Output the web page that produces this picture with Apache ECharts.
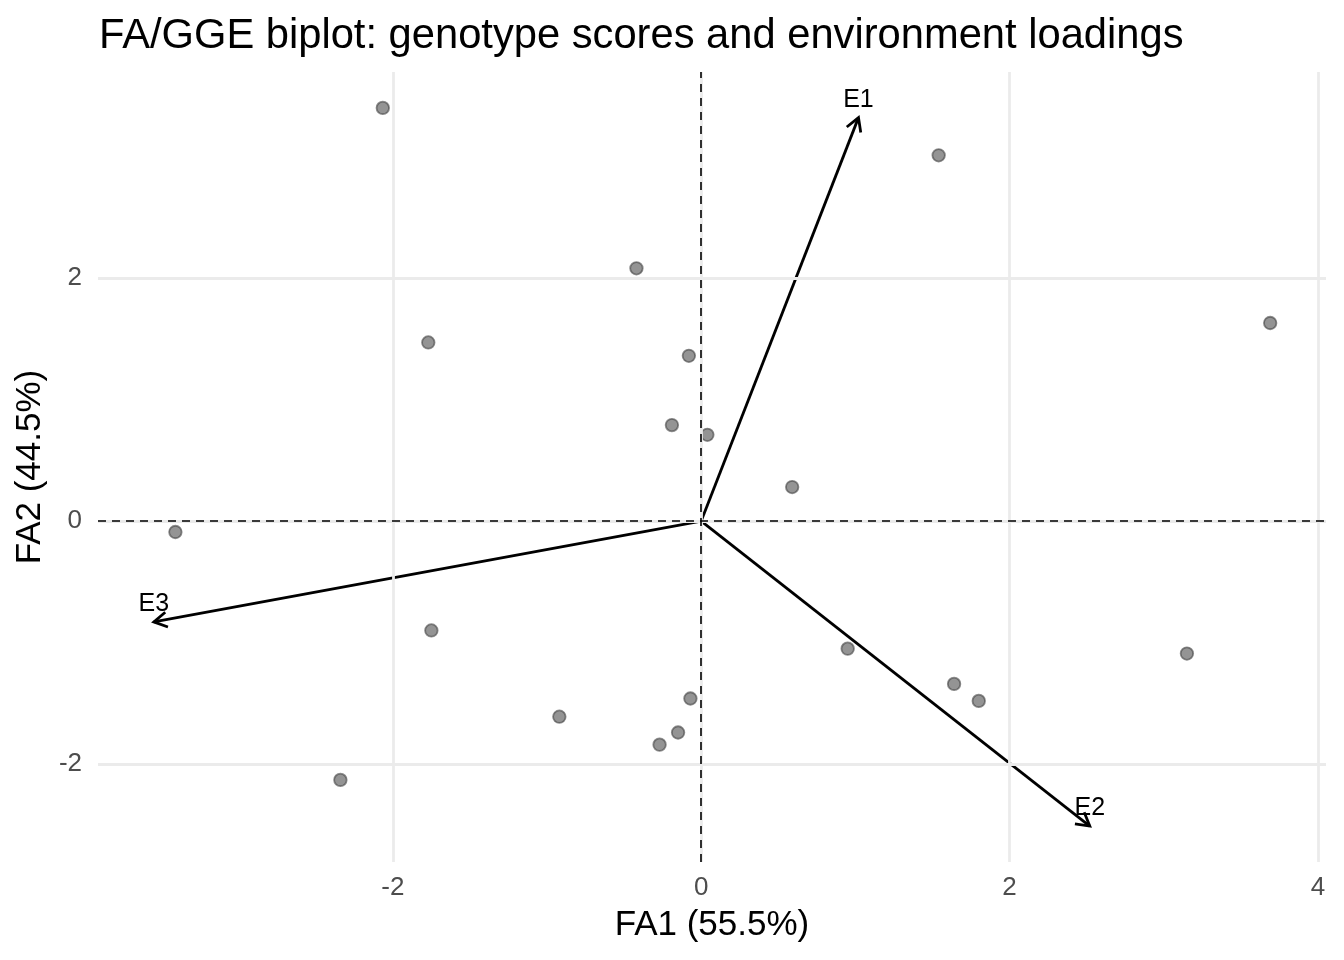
<!DOCTYPE html>
<html>
<head>
<meta charset="utf-8">
<script src="https://cdn.jsdelivr.net/npm/echarts@6/dist/echarts.min.js"></script>
<style>html,body{margin:0;padding:0;background:#fff}#c{width:1344px;height:960px}</style>
</head>
<body>
<div id="c"></div>
<script>
// Genotype scores (FA1, FA2)
const genoFA1 = [-2.065, 1.54, -0.42, 3.69, -1.77, -0.08, -0.19, 0.04, 0.59, -3.41,
                 -1.75, 0.95, 3.15, 1.64, 1.80, -0.07, -0.92, -0.15, -0.27, -2.34];
const genoFA2 = [3.40, 3.01, 2.08, 1.63, 1.47, 1.36, 0.79, 0.71, 0.28, -0.09,
                 -0.90, -1.05, -1.09, -1.34, -1.48, -1.46, -1.61, -1.74, -1.84, -2.13];
// Environment loadings
const envNames = ['E1', 'E2', 'E3'];
const envFA1 = [1.02, 2.52, -3.55];
const envFA2 = [3.32, -2.51, -0.83];
// Tick labels
const xTicks = [-2, 0, 2, 4];
const yTicks = [-2, 0, 2];

const FONT = '"Liberation Sans", Arial, Helvetica, sans-serif';
const chart = echarts.init(document.getElementById('c'));

const allX = genoFA1.concat(envFA1), allY = genoFA2.concat(envFA2);
const xr = [Math.min(...allX), Math.max(...allX)], yr = [Math.min(...allY), Math.max(...allY)];
const xpad = (xr[1] - xr[0]) * 0.05, ypad = (yr[1] - yr[0]) * 0.05;

chart.setOption({
  animation: false,
  backgroundColor: '#fff',
  title: {
    text: 'FA/GGE biplot: genotype scores and environment loadings',
    left: 94, top: 11,
    textStyle: { fontFamily: FONT, fontSize: 41.7, fontWeight: 'normal', color: '#000' }
  },
  grid: { left: 98, right: 18, top: 72, bottom: 98 },
  xAxis: {
    type: 'value', min: xr[0] - xpad, max: xr[1] + xpad,
    name: 'FA1 (55.5%)', nameLocation: 'middle', nameGap: 46,
    nameTextStyle: { fontFamily: FONT, fontSize: 35, color: '#000' },
    axisLine: { show: false }, axisTick: { show: false }, splitLine: { show: false },
    axisLabel: { customValues: xTicks, fontFamily: FONT, fontSize: 26, color: '#4d4d4d', margin: 13 }
  },
  yAxis: {
    type: 'value', min: yr[0] - ypad, max: yr[1] + ypad,
    name: 'FA2 (44.5%)', nameLocation: 'middle', nameGap: 50, nameRotate: 90,
    nameTextStyle: { fontFamily: FONT, fontSize: 35, color: '#000' },
    axisLine: { show: false }, axisTick: { show: false }, splitLine: { show: false },
    axisLabel: { customValues: yTicks, fontFamily: FONT, fontSize: 26, color: '#4d4d4d', margin: 16 }
  },
  series: [
    {
      type: 'scatter', data: [], z: 1, silent: true,
      markLine: {
        silent: true, symbol: ['none', 'none'], label: { show: false }, animation: false,
        lineStyle: { color: '#ebebeb', width: 2.8, type: 'solid' },
        data: xTicks.map(v => ({ xAxis: v })).concat(yTicks.map(v => ({ yAxis: v })))
      }
    },
    {
      type: 'scatter', data: [], z: 2, silent: true,
      markLine: {
        silent: true, symbol: ['none', 'none'], label: { show: false }, animation: false,
        lineStyle: { color: '#000', width: 1.6, type: [8, 6] },
        data: [{ xAxis: 0 }, { yAxis: 0 }]
      }
    },
    {
      type: 'scatter', z: 3, symbolSize: 12.5,
      data: genoFA1.map((x, i) => [x, genoFA2[i]]),
      itemStyle: { color: 'rgba(70,70,70,0.58)', borderColor: 'rgba(70,70,70,0.62)', borderWidth: 1.8, opacity: 1 }
    },
    {
      type: 'custom', z: 4,
      data: envFA1.map((x, i) => [x, envFA2[i]]),
      renderItem: function (params, api) {
        const p0 = api.coord([0, 0]);
        const p1 = api.coord([api.value(0), api.value(1)]);
        const ang = Math.atan2(p1[1] - p0[1], p1[0] - p0[0]);
        const L = 15, a = Math.PI / 6;
        const h1 = [p1[0] - L * Math.cos(ang - a), p1[1] - L * Math.sin(ang - a)];
        const h2 = [p1[0] - L * Math.cos(ang + a), p1[1] - L * Math.sin(ang + a)];
        return {
          type: 'group',
          children: [
            { type: 'line', shape: { x1: p0[0], y1: p0[1], x2: p1[0], y2: p1[1] },
              style: { stroke: '#000', lineWidth: 2.8 } },
            { type: 'polyline', shape: { points: [h1, p1, h2] },
              style: { stroke: '#000', lineWidth: 2.8, fill: null } },
            { type: 'text', x: p1[0], y: p1[1] - 18,
              style: { text: envNames[params.dataIndex], align: 'center', verticalAlign: 'middle',
                       font: '25px ' + FONT, fill: '#000' } }
          ]
        };
      }
    }
  ]
});
</script>
</body>
</html>
